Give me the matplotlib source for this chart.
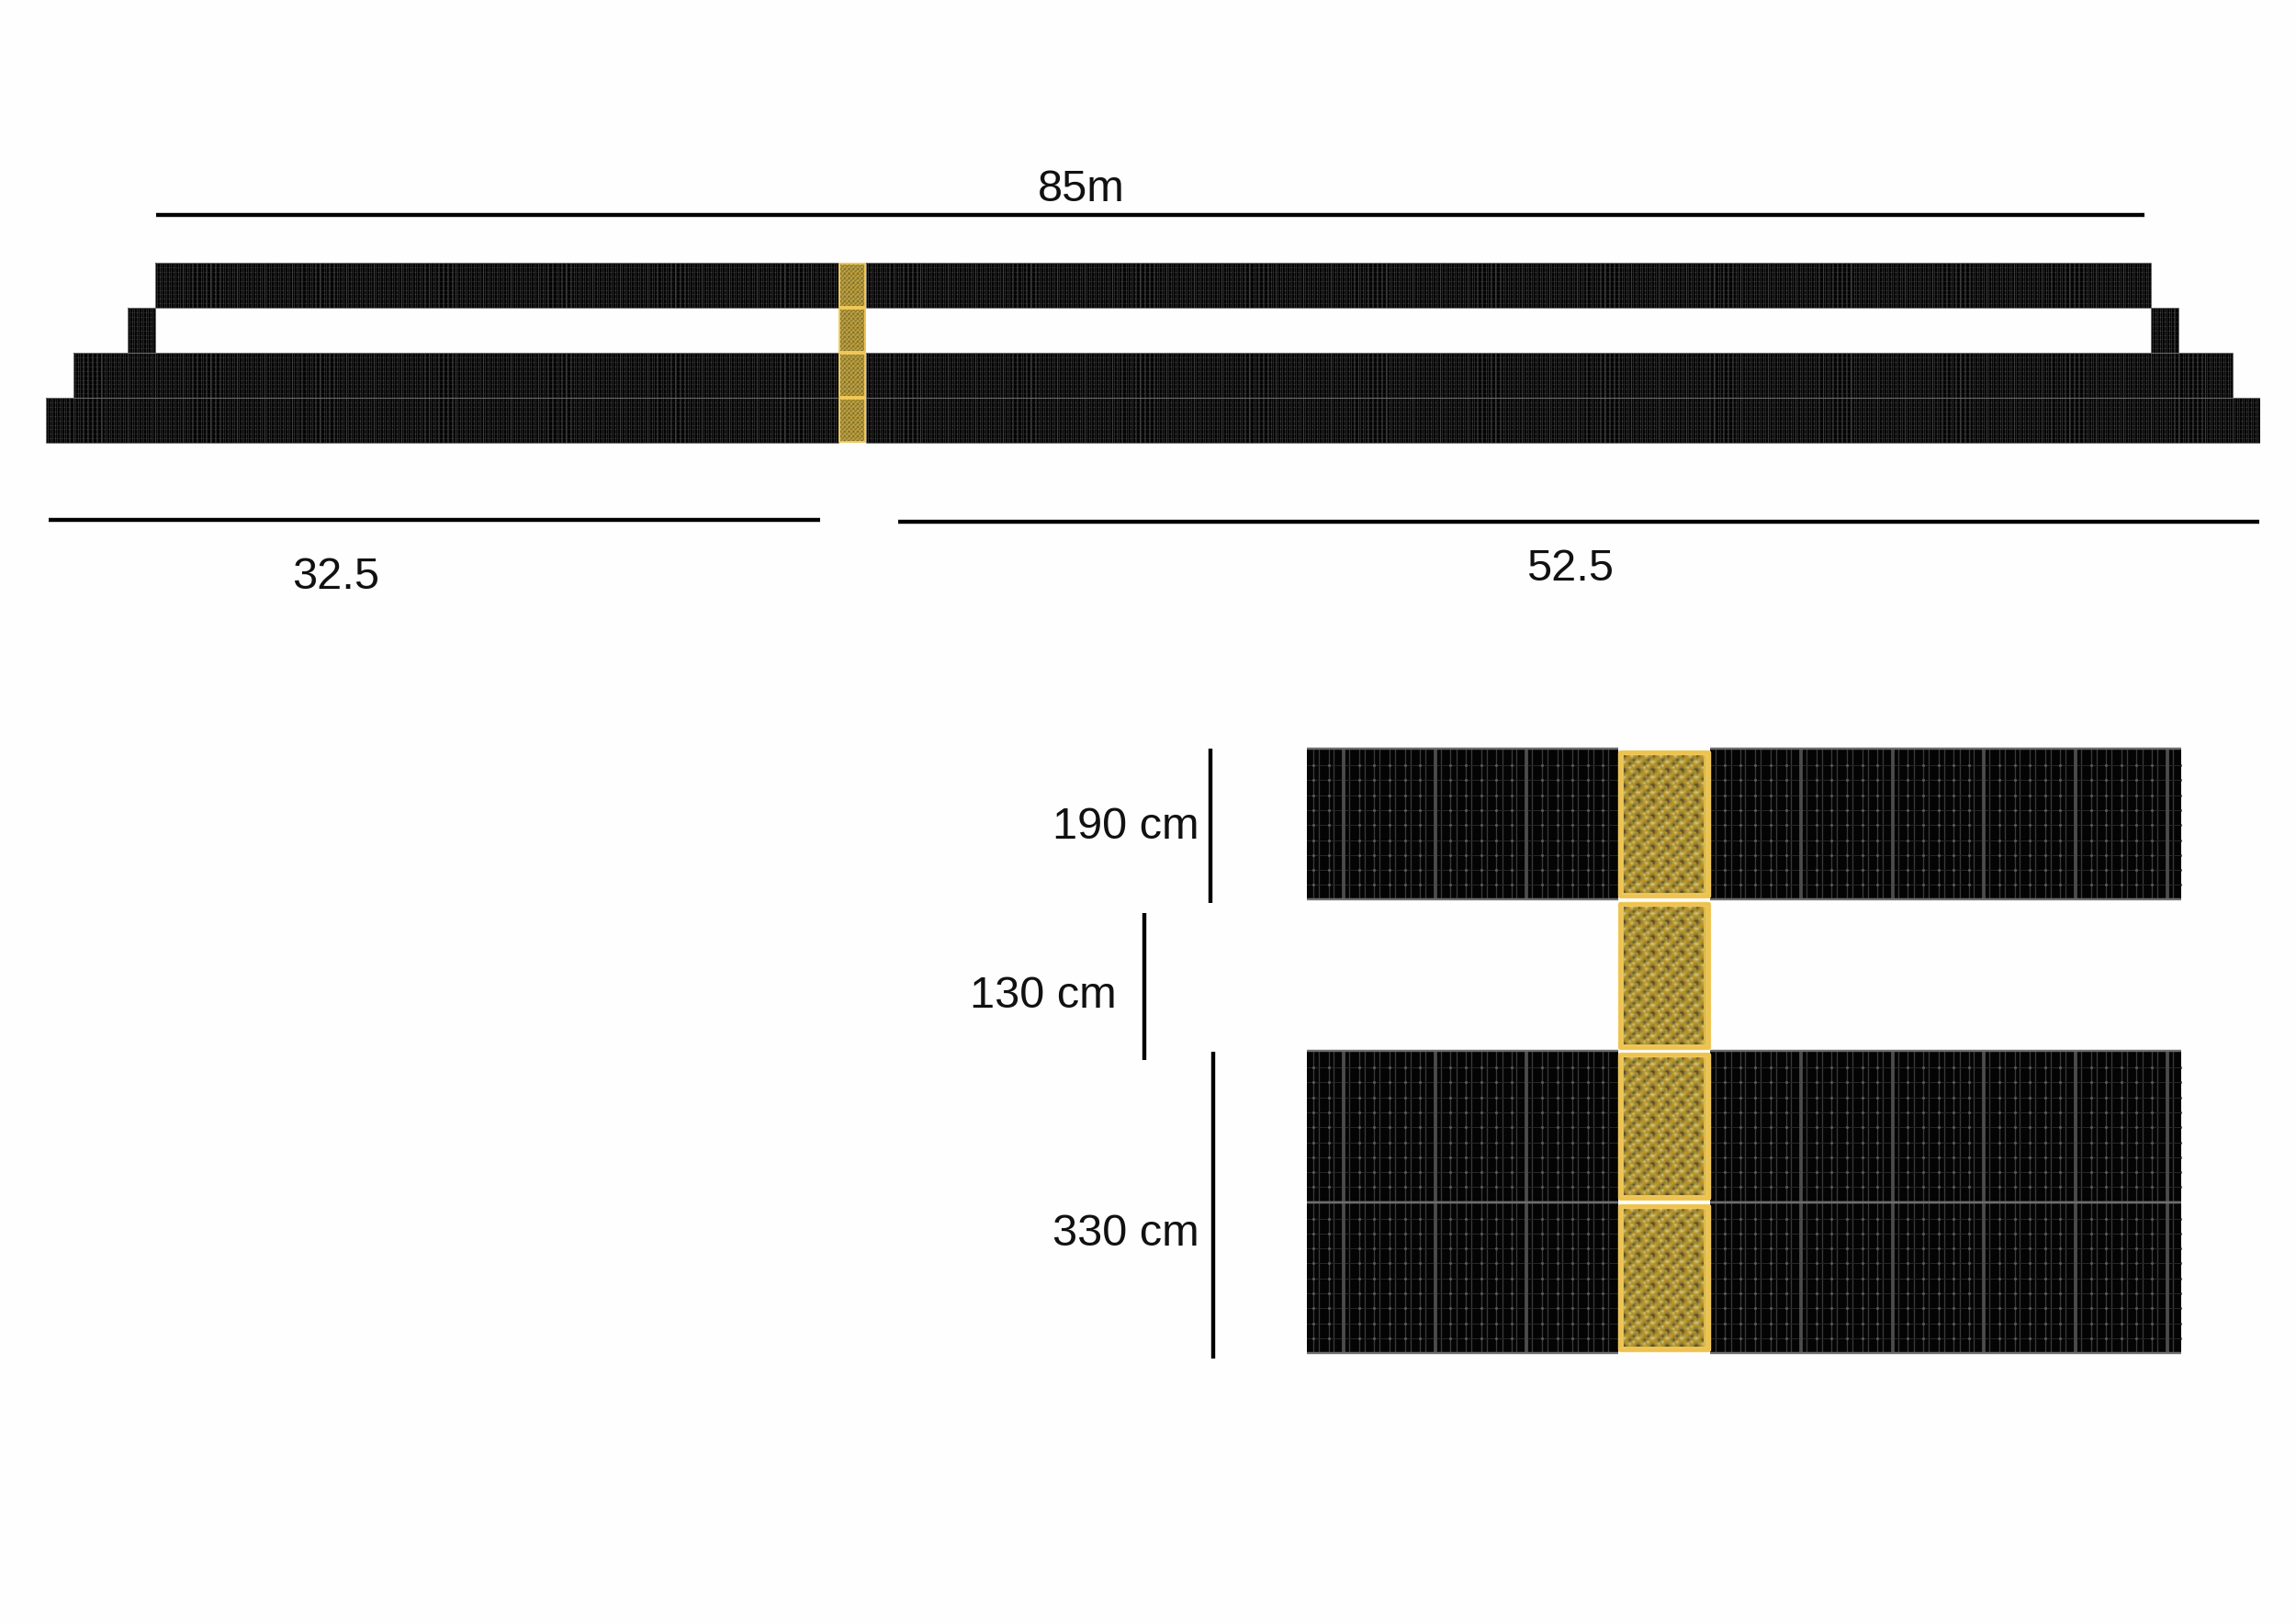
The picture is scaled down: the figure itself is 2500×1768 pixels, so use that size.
import numpy as np
import matplotlib
matplotlib.use("Agg")
import matplotlib.pyplot as plt
from matplotlib.colors import ListedColormap
from matplotlib.patches import Rectangle

plt.rcParams["font.family"] = ["Liberation Sans", "DejaVu Sans"]

W, H = 2500, 1768
PX = 0.72  # one output pixel in points at dpi 100

# panel columns (start, stop) in each of the four rows, gold column left out
ROW_SPANS = [
    [(4, 29), (30, 77)],
    [(3, 4), (77, 78)],
    [(1, 29), (30, 80)],
    [(0, 29), (30, 81)],
]
GOLD_COLUMN = 29
GOLD_ROWS = [0, 1, 2, 3]

# cell layout inside one panel, as fractions of the panel
CELL_X = [1 / 6, 2 / 6, 3 / 6, 4 / 6, 5 / 6]
CELL_X_PAIR = [0.06, 0.23, 0.39, 0.56, 0.73, 0.89]
CELL_Y = [0.11, 0.209, 0.308, 0.407, 0.506, 0.605, 0.704, 0.803, 0.9]

# repeating weave of the gold panel
GOLD_PALETTE = ["#a58d33", "#574a2b", "#c6901c", "#d5c97e", "#8d7d36", "#b8a344"]
GOLD_TILE = [
    [1, 4, 0, 5, 3, 5, 0, 2],
    [4, 0, 2, 2, 5, 0, 4, 0],
    [0, 5, 2, 0, 4, 1, 4, 5],
    [3, 5, 0, 4, 0, 4, 5, 3],
    [5, 0, 4, 1, 4, 0, 2, 5],
    [0, 2, 0, 4, 5, 3, 2, 0],
    [4, 2, 5, 3, 0, 5, 0, 4],
    [1, 4, 0, 5, 2, 0, 4, 1],
]

DIM_LINES = [
    (170, 234, 2335, 234),
    (53, 566, 893, 566),
    (978, 568, 2460, 568),
    (1318, 815, 1318, 983),
    (1246, 994, 1246, 1154),
    (1321, 1145, 1321, 1479),
]
DIM_LABELS = ["85m", "32.5", "52.5", "190 cm", "130 cm", "330 cm"]
DIM_LABEL_X = [1177, 366, 1710, 1226, 1136, 1226]
DIM_LABEL_Y = [219, 641, 632, 913, 1097, 1356]


def add_view(fig, x0, y0, x1, y1, xlim, row_pad=0.02):
    # axes whose rows 0..4 land on pixel range y0..y1, with a little room for edges
    pad = (y1 - y0) / 4 * row_pad
    ax = fig.add_axes([x0 / W, 1 - (y1 + pad) / H, (x1 - x0) / W, (y1 - y0 + 2 * pad) / H])
    ax.set_xlim(*xlim)
    ax.set_ylim(4 + row_pad, -row_pad)
    ax.axis("off")
    return ax


def draw_rows(ax, seam, seam_color, thin, dot, edge, side_edges):
    for row, spans in enumerate(ROW_SPANS):
        for start, stop in spans:
            ax.add_patch(Rectangle((start, row), stop - start, 1, fc="#040404", ec="none", zorder=1))
            cols = np.arange(start, stop)
            xs = np.concatenate([cols + f for f in CELL_X + CELL_X_PAIR])
            ax.vlines(xs, row, row + 1, colors="#3a3a3a", linewidth=thin * 1.3, zorder=2)
            ax.vlines(np.arange(start + 1, stop), row, row + 1, colors=seam_color, linewidth=seam, zorder=3)
            ax.hlines([row + f for f in CELL_Y], start, stop, colors="#262626", linewidth=thin, zorder=2)
            dots_x = np.concatenate([cols + f for f in CELL_X])
            px, py = np.meshgrid(dots_x, [row + f for f in CELL_Y])
            ax.scatter(px.ravel(), py.ravel(), s=dot, c="#585858", linewidths=0, zorder=3)
            ax.hlines([row, row + 1], start, stop, colors="#6e6e6e", linewidth=edge, zorder=4)
            if side_edges:
                ax.vlines([start, stop], row, row + 1, colors="#6e6e6e", linewidth=edge, zorder=4)


def draw_gold(ax, border, inset_x, inset_y, lighter):
    cmap = ListedColormap(GOLD_PALETTE)
    weave = np.tile(np.array(GOLD_TILE), (9, 6))[:, :44]
    for row in GOLD_ROWS:
        x0, x1 = GOLD_COLUMN, GOLD_COLUMN + 1
        ax.add_patch(Rectangle((x0 + 0.02, row + 0.025), 0.96, 0.95, fc="#dcb94a", ec="none", zorder=4.5))
        ax.imshow(weave, cmap=cmap, vmin=0, vmax=len(GOLD_PALETTE) - 1, aspect="auto",
                  interpolation="bilinear", zorder=5,
                  extent=(x0 + inset_x, x1 - inset_x, row + 1 - inset_y, row + inset_y))
        rect = dict(fc="none", joinstyle="round", zorder=6)
        ax.add_patch(Rectangle((x0 + 0.02, row + 0.025), 0.96, 0.95, ec=lighter, lw=border * 1.2, **rect))
        ax.add_patch(Rectangle((x0 + 0.02, row + 0.025), 0.96, 0.95, ec="#eec24c", lw=border, **rect))


fig = plt.figure(figsize=(W / 100, H / 100), dpi=100, facecolor="#fefefe")

# --- whole wall, 81 columns ---
xlim_top = (0, 81)
top = add_view(fig, 50, 286, 2461, 482, xlim_top)
draw_rows(top, seam=1.0 * PX, seam_color="#3c3c3c", thin=0.5 * PX, dot=0.25, edge=1.0 * PX, side_edges=True)
draw_gold(top, border=1.6 * PX, inset_x=0.065, inset_y=0.045, lighter="#f4dc90")
top.set_xlim(*xlim_top)
top.set_ylim(4.02, -0.02)

# --- close-up around the gold column ---
xlim_zoom = (29 - (1762 - 1423) / 99.6, 29 + (2375 - 1762) / 99.6)
zoom = add_view(fig, 1423, 815, 2375, 1473, xlim_zoom)
draw_rows(zoom, seam=3.8 * PX, seam_color="#4c4c4c", thin=1.0 * PX, dot=5, edge=2.4 * PX, side_edges=False)
draw_gold(zoom, border=4.5 * PX, inset_x=0.065, inset_y=0.045, lighter="#f6df98")
zoom.set_xlim(*xlim_zoom)
zoom.set_ylim(4.02, -0.02)

# --- dimension lines and labels, in image pixels ---
overlay = fig.add_axes([0, 0, 1, 1])
overlay.set_xlim(0, W)
overlay.set_ylim(H, 0)
overlay.axis("off")
for x0, y0, x1, y1 in DIM_LINES:
    overlay.plot([x0, x1], [y0, y1], color="black", linewidth=4.4 * PX, solid_capstyle="butt")
for label, x, y in zip(DIM_LABELS, DIM_LABEL_X, DIM_LABEL_Y):
    overlay.text(x, y, label, fontsize=35, color="#111111", ha="center", va="baseline")

fig.savefig("out.png", dpi=100, facecolor=fig.get_facecolor())
